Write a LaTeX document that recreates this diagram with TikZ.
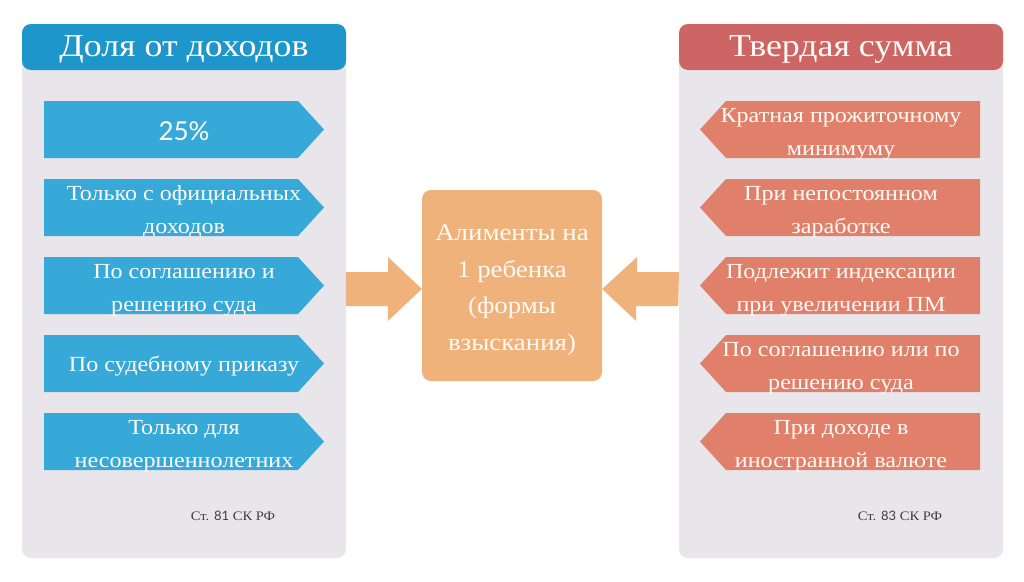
\documentclass[tikz,border=0pt]{standalone}
\usepackage{fontspec}
\setmainfont[FakeStretch=1.12]{Liberation Serif}
\newfontfamily\latofont{Lato}
\begin{document}
\begin{tikzpicture}[x=1pt,y=-1pt,
  txt/.style={text=white!96!orange, align=center, font=\fontsize{21.5}{33}\selectfont, inner sep=0pt},
  ttl/.style={text=white!96!orange, font=\fontsize{32}{36}\selectfont, inner sep=0pt},
  ref/.style={text=black!75, font=\fontsize{13}{15}\selectfont, inner sep=0pt},
]
\definecolor{panelbg}{HTML}{E8E6EA}
\definecolor{bluetitle}{HTML}{1C96CB}
\definecolor{bluearrow}{HTML}{36A9D8}
\definecolor{redtitle}{HTML}{CC6563}
\definecolor{salmon}{HTML}{E0806A}
\definecolor{peach}{HTML}{F0B27B}
\useasboundingbox[fill=white] (0,0) rectangle (1024,581);
% panels
\fill[panelbg, rounded corners=9pt] (22,24) rectangle (346,558);
\fill[panelbg, rounded corners=9pt] (679,24) rectangle (1003,558);
\fill[bluetitle, rounded corners=9pt] (22,24) rectangle (346,70);
\fill[redtitle, rounded corners=9pt] (679,24) rectangle (1003,70);
\node[ttl] (t1) at (184,49) {Доля от доходов};
\node[ttl] (t2) at (841,49) {Твердая сумма};
% arrows
\foreach \y in {101,179,257,335,413}{
  \fill[bluearrow] (44,\y) -- (298,\y) -- (324,\y+28.5) -- (298,\y+57) -- (44,\y+57) -- cycle;
  \fill[salmon] (980,\y) -- (726,\y) -- (700,\y+28.5) -- (726,\y+57) -- (980,\y+57) -- cycle;
}
\node[txt, font=\latofont\fontsize{26}{30}\selectfont] (l1) at (184,131) {25\%};
\node[txt] (l2) at (184,212) {Только с официальных\\доходов};
\node[txt] (l3) at (184,290) {По соглашению и\\решению суда};
\node[txt] (l4) at (184,366) {По судебному приказу};
\node[txt] (l5) at (184,446) {Только для\\несовершеннолетних};
\node[txt] (r1) at (841,134) {Кратная прожиточному\\минимуму};
\node[txt] (r2) at (841,212) {При непостоянном\\заработке};
\node[txt] (r3) at (841,290) {Подлежит индексации\\при увеличении ПМ};
\node[txt] (r4) at (841,368) {По соглашению или по\\решению суда};
\node[txt] (r5) at (841,446) {При доходе в\\иностранной валюте};
\node[ref] (s1) at (233,516) {Ст. {\latofont 81} СК РФ};
\node[ref] (s2) at (900,516) {Ст. {\latofont 83} СК РФ};
% center
\node[fill=peach, rounded corners=9pt, minimum width=180pt, minimum height=191pt, inner sep=0pt,
  text=white!96!orange, align=center, font=\fontsize{24}{36.5}\selectfont] (c) at (512,285.5) {};
\node[text=white!96!orange, align=center, font=\fontsize{24}{36.5}\selectfont, inner sep=0pt] (ct) at (512,290)
  {Алименты на\\1 ребенка\\(формы\\взыскания)};
\coordinate (la) at (346,289);
\coordinate (ra) at (679,289);
\fill[peach] (la) ++(0,-17) -- ++(42,0) -- ++(0,-15) -- (c.west |- la) -- ++(-34,32) -- ++(0,-15) -- ++(-42,0) -- cycle;
\fill[peach] (ra) ++(0,-17) -- ++(-42,0) -- ++(0,-15) -- (c.east |- ra) -- ++(34,32) -- ++(0,-15) -- ++(42,0) -- cycle;
\end{tikzpicture}
\end{document}
